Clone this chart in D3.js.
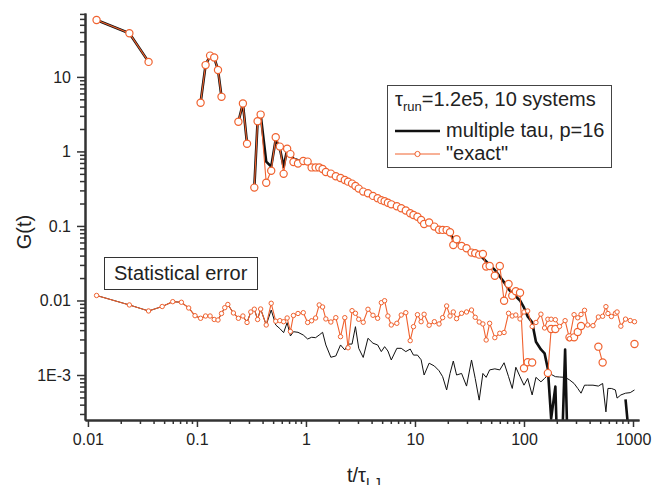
<!DOCTYPE html>
<html>
<head>
<meta charset="utf-8">
<script src="https://cdn.jsdelivr.net/npm/d3@7"></script>
<style>
  body { margin: 0; background: #fff; }
  text { font-family: Arial, "Liberation Sans", sans-serif; fill: #222; }
</style>
</head>
<body>
<svg id="chart" width="654" height="485"></svg>
<script>
// sampling times t/tau_LJ (shared by all four series)
var tVals = [0.012,0.024,0.036,0.048,0.060,0.072,0.084,0.096,0.108,0.12,
  0.132,0.144,0.156,0.168,0.18,0.192,0.216,0.24,0.264,0.288,
  0.312,0.336,0.36,0.384,0.432,0.48,0.528,0.576,0.624,0.672,
  0.72,0.768,0.845,0.945,1.036,1.127,1.226,1.323,1.421,1.522,
  1.692,1.879,2.075,2.271,2.434,2.647,2.844,3.048,3.351,3.706,
  4.119,4.545,4.913,5.266,5.644,6.062,6.82,7.482,8.241,9.04,
  9.69,10.54,11.39,12.13,13.48,15.07,16.63,17.94,19.52,20.97,
  22.47,24.08,26.76,29.72,33.02,35.69,38.82,41.97,44.98,48.41,
  54.01,59.99,65.68,72.18,78.04,84.17,91.96,100,108.1,118.8,
  128.7,143,154.5,165.6,177.5,194,211.8,238.4,261.5,288,
  311.3,333.7,359.3,384.2,429.5,481.1,526.6,564.4,588.8,633.6,
  689.2,714.3,773.8,854.1,942.8,1032];

// G(t), "exact" (null = negative, not shown on log axis)
var exactG = [58,38.6,15.9,null,null,null,null,null,4.5,14.4,
  19.3,18.2,12.4,5.4,null,null,null,2.5,4.4,1.27,
  null,0.327,2.54,3.12,0.38,0.55,1.55,1.16,0.5,1.09,
  0.92,0.72,0.69,0.745,0.73,0.61,0.61,0.61,0.58,0.53,
  0.504,0.465,0.44,0.414,0.393,0.37,0.344,0.317,0.289,0.275,
  0.253,0.236,0.222,0.215,0.205,0.195,0.184,0.173,0.161,0.148,
  0.140,0.133,0.120,0.106,0.111,0.098,0.089,0.0885,0.088,0.0824,
  0.0556,0.0663,0.054,0.0502,0.0439,0.043,0.0412,0.0421,0.0286,0.029,
  0.0215,0.029,0.0099,0.0166,0.0116,0.0133,0.0127,0.00123,0.00148,0.00147,
  null,null,null,0.00106,0.00414,0.00414,null,null,0.0032,0.0032,
  0.00378,0.00455,null,null,null,0.0024,0.00147,null,null,null,
  null,null,null,null,null,0.0026];

// G(t), multiple tau p=16
var tauG = [58,38.6,15.9,null,null,null,null,null,4.5,14.4,
  19.3,18.2,12.4,5.4,null,null,null,2.5,4.4,1.27,
  null,0.327,2.54,3.12,0.73,0.625,1.45,1.1,0.62,1.05,
  0.92,0.8,0.76,0.74,0.72,0.63,0.61,0.6,0.57,0.53,
  0.504,0.465,0.44,0.414,0.393,0.37,0.344,0.317,0.289,0.275,
  0.253,0.236,0.222,0.213,0.205,0.195,0.184,0.173,0.161,0.149,
  0.139,0.129,0.119,0.110,0.106,0.098,0.091,0.087,0.084,0.079,
  0.068,0.063,0.056,0.051,0.046,0.044,0.041,0.037,0.0335,0.030,
  0.0257,0.021,0.0175,0.0142,0.0125,0.0113,0.0100,0.0080,0.0061,0.0051,
  0.0028,0.0022,0.00195,0.0012,0.00026,0.0007,0.00001,0.0022,0.00001,null,
  null,null,null,null,null,null,null,null,null,null,
  null,null,null,0.00047,0.0001,null];

// statistical error, "exact"
var errExact = [0.01167,0.00871,0.00723,0.0083,0.00964,0.00946,0.00793,0.00625,0.00577,0.00619,
  0.00619,0.00556,0.00547,0.00669,0.0080,0.00884,0.0068,0.00577,0.00619,0.00507,
  0.00701,0.00764,0.00556,0.00769,0.00469,0.00917,0.00527,0.00536,0.00519,0.00582,
  0.00384,0.00629,0.00669,0.00686,0.00507,0.00534,0.00582,0.00871,0.00818,0.00565,
  0.00514,0.00588,0.00327,0.00588,0.00232,0.0073,0.00673,0.0056,0.0051,0.00762,
  0.00633,0.00577,0.00934,0.00993,0.00619,0.00469,0.00494,0.00638,0.00686,0.00289,
  0.00445,0.00645,0.00519,0.00653,0.00465,0.00519,0.00484,0.00588,0.00844,0.00619,
  0.00701,0.0057,0.00673,0.00701,0.00745,0.00595,0.00514,0.00484,0.00295,0.00494,
  0.00317,0.00363,0.00372,0.00673,0.00619,0.00638,0.00565,0.00701,0.00723,0.00448,
  0.00507,0.00655,0.00428,0.0056,0.0056,0.00552,0.00448,0.00536,0.00307,0.00645,
  0.00586,0.0065,0.00738,0.00469,0.00459,0.006,0.00614,0.00826,0.00669,0.0061,
  0.00673,0.00701,0.00452,0.00562,0.00538,0.00519];

// statistical error, multiple tau
var errTau = [0.01167,0.00871,0.00723,0.0083,0.00964,0.00946,0.00793,0.00625,0.00577,0.00619,
  0.00619,0.00556,0.00547,0.00669,0.0080,0.00884,0.0068,0.00577,0.00619,0.00507,
  0.00701,0.00764,0.00556,0.00769,0.00469,0.00745,0.00469,0.0042,0.0037,0.00504,
  0.00334,0.00381,0.00374,0.00344,0.00304,0.00321,0.00317,0.00344,0.00374,0.00253,
  0.00173,0.0018,0.00253,0.00217,0.0026,0.0026,0.00445,0.00228,0.00172,0.00311,
  0.00267,0.00253,0.00206,0.0024,0.0021,0.00159,0.00228,0.00228,0.00206,0.00223,
  0.00185,0.00185,0.0016,0.0010,0.00144,0.00132,0.00114,0.00095,0.00063,0.00105,
  0.00154,0.0010,0.00105,0.00071,0.00159,0.0009,0.00046,0.00105,0.00093,0.00117,
  0.00121,0.00117,0.00146,0.00095,0.00066,0.00127,0.00095,0.00073,0.0009,0.00054,
  0.00093,0.00081,0.0009,0.001,0.00102,0.00095,0.00094,0.00093,0.00086,0.00077,
  0.00066,0.00057,0.00073,0.00073,0.00073,0.00071,0.00077,0.00032,0.00066,0.00066,
  0.00063,0.00049,0.00054,0.00057,0.00058,0.00063];

var xTicks = [0.01, 0.1, 1, 10, 100, 1000],
    xTickLabels = ["0.01", "0.1", "1", "10", "100", "1000"],
    yTicks = [0.001, 0.01, 0.1, 1, 10],
    yTickLabels = ["1E-3", "0.01", "0.1", "1", "10"];

var orange = "#f0622f",
    dark = "#111";

var svg = d3.select("#chart"),
    plotLeft = 85, plotRight = 639, plotTop = 13, plotBottom = 420;

var x = d3.scaleLog().domain([0.0094, 1135]).range([plotLeft, plotRight]),
    y = d3.scaleLog().domain([2.49e-4, 72]).range([plotBottom, plotTop]);

function minorTicks(scale) {
  var d = scale.domain(), out = [], e, k, v;
  for (e = Math.floor(Math.log10(d[0])); e <= Math.ceil(Math.log10(d[1])); e++) {
    for (k = 2; k <= 9; k++) {
      v = k * Math.pow(10, e);
      if (v >= d[0] && v <= d[1]) out.push(v);
    }
  }
  return out;
}

function series(vals) {
  return tVals.map(function(t, i) { return {t: t, v: vals[i]}; });
}

svg.append("defs").append("clipPath").attr("id", "plot")
  .append("rect").attr("x", plotLeft).attr("y", 0).attr("width", 654 - plotLeft).attr("height", plotBottom);

var line = d3.line()
  .defined(function(d) { return d.v != null; })
  .x(function(d) { return x(d.t); })
  .y(function(d) { return y(d.v); });

var plot = svg.append("g").attr("clip-path", "url(#plot)");

// black lines underneath
plot.append("path").datum(series(tauG))
  .attr("d", line).attr("fill", "none")
  .attr("stroke", dark).attr("stroke-width", 2.6).attr("stroke-linejoin", "round");
plot.append("path").datum(series(errTau))
  .attr("d", line).attr("fill", "none")
  .attr("stroke", dark).attr("stroke-width", 1);

// orange "exact" on top
plot.append("path").datum(series(exactG))
  .attr("d", line).attr("fill", "none")
  .attr("stroke", orange).attr("stroke-width", 1.1);
plot.append("path").datum(series(errExact))
  .attr("d", line).attr("fill", "none")
  .attr("stroke", orange).attr("stroke-width", 1.1);

plot.append("g").selectAll("circle")
  .data(series(exactG).filter(function(d) { return d.v != null; }))
  .enter().append("circle")
  .attr("cx", function(d) { return x(d.t); })
  .attr("cy", function(d) { return y(d.v); })
  .attr("r", 3.6)
  .attr("fill", "#fff").attr("stroke", orange).attr("stroke-width", 1.2);

plot.append("g").selectAll("circle")
  .data(series(errExact))
  .enter().append("circle")
  .attr("cx", function(d) { return x(d.t); })
  .attr("cy", function(d) { return y(d.v); })
  .attr("r", 2.2)
  .attr("fill", "#fff").attr("stroke", orange).attr("stroke-width", 1);

// axes
var xAxis = svg.append("g").attr("transform", "translate(0," + plotBottom + ")");
xAxis.append("g")
  .call(d3.axisBottom(x).tickValues(minorTicks(x)).tickFormat("").tickSize(4).tickSizeOuter(0));
xAxis.append("g")
  .call(d3.axisBottom(x).tickValues(xTicks).tickSize(7).tickSizeOuter(0).tickPadding(7)
    .tickFormat(function(d, i) { return xTickLabels[i]; }));

var yAxis = svg.append("g").attr("transform", "translate(" + plotLeft + ",0)");
yAxis.append("g")
  .call(d3.axisLeft(y).tickValues(minorTicks(y)).tickFormat("").tickSize(5).tickSizeOuter(0));
yAxis.append("g")
  .call(d3.axisLeft(y).tickValues(yTicks).tickSize(8).tickSizeOuter(0).tickPadding(6)
    .tickFormat(function(d, i) { return yTickLabels[i]; }));

svg.selectAll(".domain").attr("stroke", "#333").attr("stroke-width", 2);
svg.selectAll(".tick line").attr("stroke", "#333").attr("stroke-width", 1.5);
svg.selectAll(".tick text").style("font-size", "16px").attr("fill", "#222");

// axis titles
svg.append("text")
  .attr("transform", "translate(31,232) rotate(-90)")
  .attr("text-anchor", "middle")
  .style("font-size", "20px")
  .text("G(t)");

var xt = svg.append("text").attr("x", 347).attr("y", 482).style("font-size", "20px");
xt.append("tspan").text("t/τ");
xt.append("tspan").attr("dy", 6).style("font-size", "14px").text("LJ");

// legend
var lg = svg.append("g");
lg.append("rect").attr("x", 387.5).attr("y", 85.5).attr("width", 224).attr("height", 82)
  .attr("fill", "#fff").attr("stroke", "#444").attr("stroke-width", 1);
var l1 = lg.append("text").attr("x", 395).attr("y", 106).style("font-size", "20px");
l1.append("tspan").text("τ");
l1.append("tspan").attr("dy", 5).style("font-size", "13px").text("run");
l1.append("tspan").attr("dy", -5).text("=1.2e5, 10 systems");

lg.append("line").attr("x1", 395).attr("x2", 440).attr("y1", 131).attr("y2", 131)
  .attr("stroke", dark).attr("stroke-width", 2.6);
lg.append("text").attr("x", 446).attr("y", 137).style("font-size", "20px").text("multiple tau, p=16");

lg.append("line").attr("x1", 395).attr("x2", 440).attr("y1", 154).attr("y2", 154)
  .attr("stroke", orange).attr("stroke-width", 1);
lg.append("circle").attr("cx", 417.5).attr("cy", 154).attr("r", 2.6)
  .attr("fill", "#fff").attr("stroke", orange).attr("stroke-width", 1);
lg.append("text").attr("x", 446).attr("y", 160).style("font-size", "20px").text("\"exact\"");

// statistical error label
svg.append("rect").attr("x", 104.5).attr("y", 257.5).attr("width", 153).attr("height", 32)
  .attr("fill", "#fff").attr("stroke", "#333").attr("stroke-width", 1);
svg.append("text").attr("x", 114).attr("y", 280).style("font-size", "20px").text("Statistical error");
</script>
</body>
</html>
